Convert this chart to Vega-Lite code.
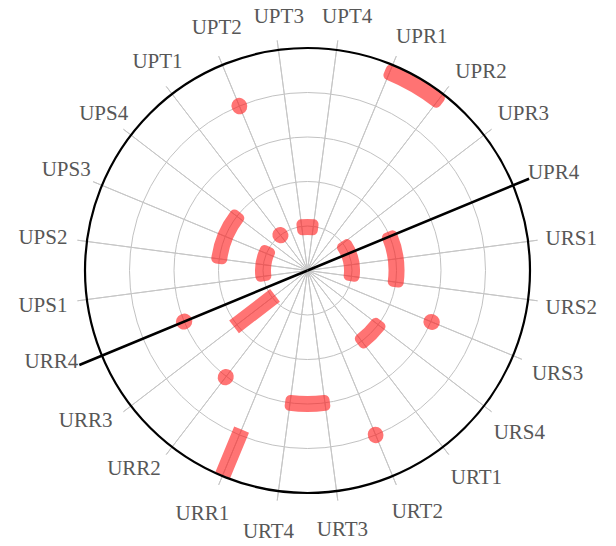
{
  "$schema": "https://vega.github.io/schema/vega-lite/v6.json",
  "width": 615,
  "height": 541,
  "padding": {"left": 0, "top": 0, "right": 1, "bottom": 5},
  "autosize": {"type": "none"},
  "background": "white",
  "config": {"view": {"stroke": null}, "text": {"font": "Liberation Serif", "fontSize": 21, "fill": "#575757", "align": "center", "baseline": "middle"}},
  "datasets": {
    "categories": [
      {"label": "UPT4", "pos": 0}, {"label": "UPR1", "pos": 1}, {"label": "UPR2", "pos": 2},
      {"label": "UPR3", "pos": 3}, {"label": "UPR4", "pos": 4}, {"label": "URS1", "pos": 5},
      {"label": "URS2", "pos": 6}, {"label": "URS3", "pos": 7}, {"label": "URS4", "pos": 8},
      {"label": "URT1", "pos": 9}, {"label": "URT2", "pos": 10}, {"label": "URT3", "pos": 11},
      {"label": "URT4", "pos": 12}, {"label": "URR1", "pos": 13}, {"label": "URR2", "pos": 14},
      {"label": "URR3", "pos": 15}, {"label": "URR4", "pos": 16}, {"label": "UPS1", "pos": 17},
      {"label": "UPS2", "pos": 18}, {"label": "UPS3", "pos": 19}, {"label": "UPS4", "pos": 20},
      {"label": "UPT1", "pos": 21}, {"label": "UPT2", "pos": 22}, {"label": "UPT3", "pos": 23}
    ],
    "rings": [{"ring": 1}, {"ring": 2}, {"ring": 3}, {"ring": 4}],
    "outline": [{"ring": 5}],
    "axisline": [{"pos": 4, "len": 5.39}, {"pos": 16, "len": 5.55}],
    "bands": [
      {"from": 1, "to": 2, "r": 4.82},
      {"from": -1, "to": 0, "r": 0.98},
      {"from": 18, "to": 20, "r": 2.0},
      {"from": 17, "to": 19.2, "r": 1.0},
      {"from": 3.25, "to": 6, "r": 1.0},
      {"from": 4, "to": 6, "r": 2.0},
      {"from": 8, "to": 9, "r": 2.0},
      {"from": 11, "to": 12, "r": 3.0}
    ],
    "spans": [
      {"pos": 15, "low": 0.92, "high": 2.08},
      {"pos": 13, "low": 3.87, "high": 4.98}
    ],
    "points": [
      {"pos": 22, "r": 4.0},
      {"pos": 21, "r": 1.0},
      {"pos": 7, "r": 3.02},
      {"pos": 10, "r": 4.0},
      {"pos": 14, "r": 3.02},
      {"pos": 16, "r": 3.0}
    ]
  },
  "layer": [
    {
      "data": {"name": "rings"},
      "mark": {"type": "arc", "theta": 0, "theta2": 6.2832, "filled": false, "stroke": "#c2c2c2", "strokeWidth": 1},
      "encoding": {
        "radius": {"field": "ring", "type": "quantitative", "stack": null, "scale": {"type": "linear", "domain": [0, 5], "range": [0, 222.5], "nice": false, "zero": true}}
      }
    },
    {
      "data": {"name": "categories"},
      "mark": {"type": "arc", "filled": false, "stroke": "#c6c6c6", "strokeWidth": 1},
      "encoding": {
        "theta": {"field": "pos", "type": "quantitative", "stack": null, "scale": {"domain": [-0.5, 23.5], "range": [0, 6.283185307179586], "nice": false, "zero": false}},
        "theta2": {"field": "pos"},
        "radius": {"value": 232}
      }
    },
    {
      "data": {"name": "bands"},
      "mark": {"type": "arc", "fill": "#ff1f1f", "stroke": "#ff1f1f", "strokeWidth": 10, "strokeJoin": "round", "opacity": 0.62, "radiusOffset": 3, "radius2Offset": -3},
      "encoding": {
        "theta": {"field": "from", "type": "quantitative", "stack": null, "scale": {"domain": [-0.5, 23.5], "range": [0, 6.283185307179586], "nice": false, "zero": false}},
        "theta2": {"field": "to"},
        "radius": {"field": "r", "type": "quantitative", "stack": null, "scale": {"type": "linear", "domain": [0, 5], "range": [0, 222.5], "nice": false, "zero": true}},
        "radius2": {"field": "r"}
      }
    },
    {
      "data": {"name": "spans"},
      "mark": {"type": "arc", "filled": false, "stroke": "#ff1f1f", "strokeWidth": 16, "strokeJoin": "miter", "opacity": 0.62},
      "encoding": {
        "theta": {"field": "pos", "type": "quantitative", "stack": null, "scale": {"domain": [-0.5, 23.5], "range": [0, 6.283185307179586], "nice": false, "zero": false}},
        "theta2": {"field": "pos"},
        "radius": {"field": "high", "type": "quantitative", "stack": null, "scale": {"type": "linear", "domain": [0, 5], "range": [0, 222.5], "nice": false, "zero": true}},
        "radius2": {"field": "low"}
      }
    },
    {
      "data": {"name": "points"},
      "mark": {"type": "arc", "filled": false, "stroke": "#ff1f1f", "strokeWidth": 15.5, "strokeJoin": "round", "strokeCap": "round", "opacity": 0.62, "radiusOffset": 0.5, "radius2Offset": -0.5},
      "encoding": {
        "theta": {"field": "pos", "type": "quantitative", "stack": null, "scale": {"domain": [-0.5, 23.5], "range": [0, 6.283185307179586], "nice": false, "zero": false}},
        "theta2": {"field": "pos"},
        "radius": {"field": "r", "type": "quantitative", "stack": null, "scale": {"type": "linear", "domain": [0, 5], "range": [0, 222.5], "nice": false, "zero": true}},
        "radius2": {"field": "r"}
      }
    },
    {
      "data": {"name": "outline"},
      "mark": {"type": "arc", "theta": 0, "theta2": 6.2832, "filled": false, "stroke": "#000000", "strokeWidth": 2.2},
      "encoding": {
        "radius": {"field": "ring", "type": "quantitative", "stack": null, "scale": {"type": "linear", "domain": [0, 5], "range": [0, 222.5], "nice": false, "zero": true}}
      }
    },
    {
      "data": {"name": "axisline"},
      "mark": {"type": "arc", "filled": false, "stroke": "#000000", "strokeWidth": 2.6},
      "encoding": {
        "theta": {"field": "pos", "type": "quantitative", "stack": null, "scale": {"domain": [-0.5, 23.5], "range": [0, 6.283185307179586], "nice": false, "zero": false}},
        "theta2": {"field": "pos"},
        "radius": {"field": "len", "type": "quantitative", "stack": null, "scale": {"type": "linear", "domain": [0, 5], "range": [0, 222.5], "nice": false, "zero": true}}
      }
    },
    {
      "data": {"name": "categories"},
      "transform": [{"filter": {"field": "pos", "oneOf": [0, 23]}}],
      "mark": {"type": "text", "dx": 5.5, "dy": 6.5},
      "encoding": {
        "theta": {"field": "pos", "type": "quantitative", "stack": null, "scale": {"domain": [-0.5, 23.5], "range": [0, 6.283185307179586], "nice": false, "zero": false}},
        "radius": {"value": 262},
        "text": {"field": "label"}
      }
    },
    {
      "data": {"name": "categories"},
      "transform": [{"filter": {"field": "pos", "oneOf": [1, 2]}}],
      "mark": {"type": "text", "dx": 14, "dy": 9},
      "encoding": {
        "theta": {"field": "pos", "type": "quantitative", "stack": null, "scale": {"domain": [-0.5, 23.5], "range": [0, 6.283185307179586], "nice": false, "zero": false}},
        "radius": {"value": 262},
        "text": {"field": "label"}
      }
    },
    {
      "data": {"name": "categories"},
      "transform": [{"filter": {"field": "pos", "oneOf": [3, 7]}}],
      "mark": {"type": "text", "dx": 8, "dy": 3},
      "encoding": {
        "theta": {"field": "pos", "type": "quantitative", "stack": null, "scale": {"domain": [-0.5, 23.5], "range": [0, 6.283185307179586], "nice": false, "zero": false}},
        "radius": {"value": 262},
        "text": {"field": "label"}
      }
    },
    {
      "data": {"name": "categories"},
      "transform": [{"filter": {"field": "pos", "oneOf": [4, 5, 6, 8, 20]}}],
      "mark": {"type": "text", "dx": 4, "dy": 3},
      "encoding": {
        "theta": {"field": "pos", "type": "quantitative", "stack": null, "scale": {"domain": [-0.5, 23.5], "range": [0, 6.283185307179586], "nice": false, "zero": false}},
        "radius": {"value": 262},
        "text": {"field": "label"}
      }
    },
    {
      "data": {"name": "categories"},
      "transform": [{"filter": {"field": "pos", "oneOf": [9, 10, 21, 22]}}],
      "mark": {"type": "text", "dx": 9.5, "dy": -0.5},
      "encoding": {
        "theta": {"field": "pos", "type": "quantitative", "stack": null, "scale": {"domain": [-0.5, 23.5], "range": [0, 6.283185307179586], "nice": false, "zero": false}},
        "radius": {"value": 262},
        "text": {"field": "label"}
      }
    },
    {
      "data": {"name": "categories"},
      "transform": [{"filter": {"field": "pos", "oneOf": [11, 19]}}],
      "mark": {"type": "text", "dx": 0.7, "dy": -0.7},
      "encoding": {
        "theta": {"field": "pos", "type": "quantitative", "stack": null, "scale": {"domain": [-0.5, 23.5], "range": [0, 6.283185307179586], "nice": false, "zero": false}},
        "radius": {"value": 262},
        "text": {"field": "label"}
      }
    },
    {
      "data": {"name": "categories"},
      "transform": [{"filter": {"field": "pos", "oneOf": [12, 13, 17, 18]}}],
      "mark": {"type": "text", "dx": -4.8, "dy": 1.8},
      "encoding": {
        "theta": {"field": "pos", "type": "quantitative", "stack": null, "scale": {"domain": [-0.5, 23.5], "range": [0, 6.283185307179586], "nice": false, "zero": false}},
        "radius": {"value": 262},
        "text": {"field": "label"}
      }
    },
    {
      "data": {"name": "categories"},
      "transform": [{"filter": {"field": "pos", "oneOf": [14, 15, 16]}}],
      "mark": {"type": "text", "dx": -14, "dy": -9},
      "encoding": {
        "theta": {"field": "pos", "type": "quantitative", "stack": null, "scale": {"domain": [-0.5, 23.5], "range": [0, 6.283185307179586], "nice": false, "zero": false}},
        "radius": {"value": 262},
        "text": {"field": "label"}
      }
    }
  ]
}
